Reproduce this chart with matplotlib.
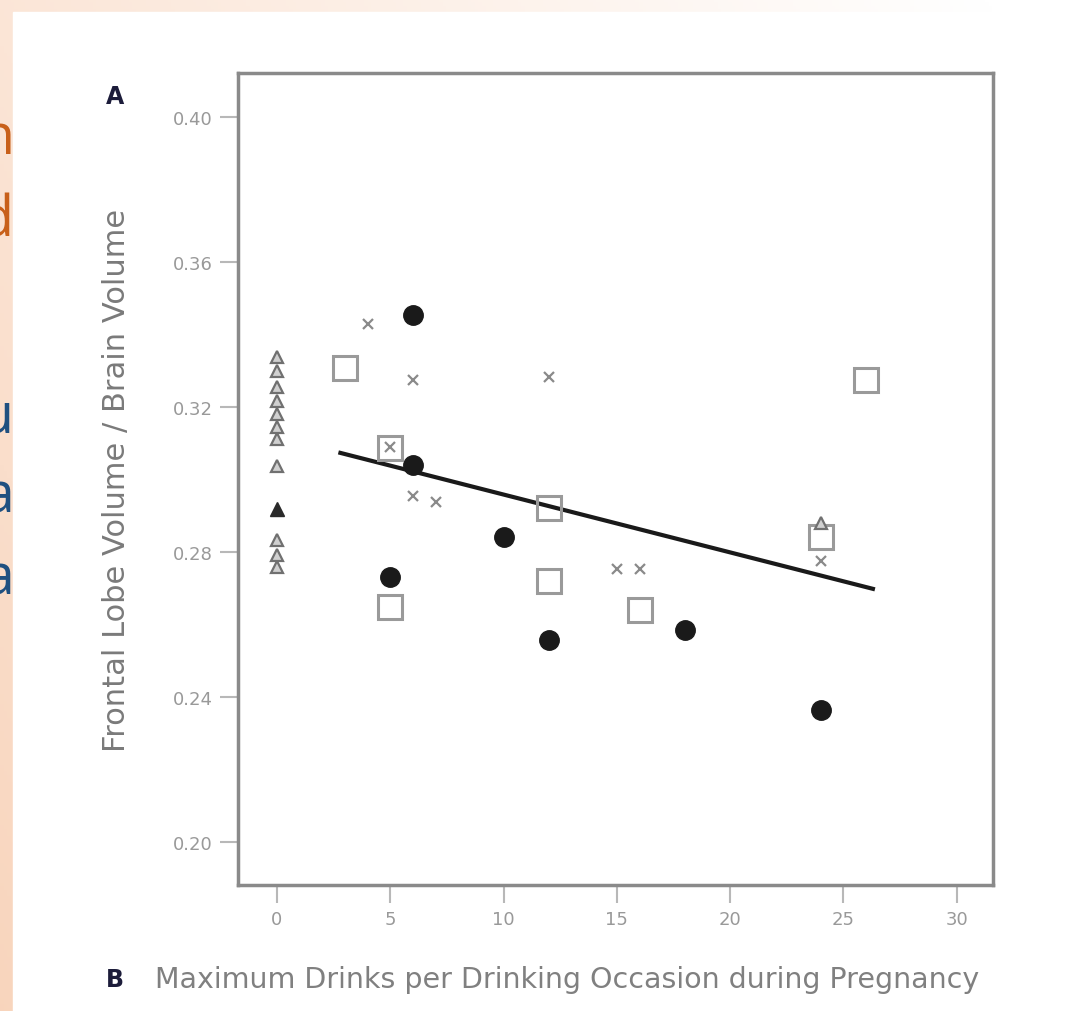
import matplotlib.pyplot as plt
import numpy as np

# --- data ---
# filled circles
circle_x = [6, 6, 5, 10, 12, 18, 24]
circle_y = [0.3454, 0.3040, 0.2731, 0.2841, 0.2557, 0.2585, 0.2364]

# open squares
square_x = [3, 5, 5, 12, 12, 16, 26, 24]
square_y = [0.3308, 0.3087, 0.2648, 0.2921, 0.2720, 0.2640, 0.3274, 0.2842]

# crosses
cross_x = [4, 6, 12, 6, 7, 15, 16, 5, 24]
cross_y = [0.3429, 0.3274, 0.3283, 0.2955, 0.2938, 0.2753, 0.2753, 0.3090, 0.2775]

# open triangles (mostly the non-drinking group at 0)
tri_x = [0, 0, 0, 0, 0, 0, 0, 0, 0, 0, 0, 24]
tri_y = [0.3338, 0.3299, 0.3255, 0.3217, 0.3181, 0.3145, 0.3112, 0.3037,
         0.2833, 0.2792, 0.2759, 0.2880]
# dark (overlapping) triangle
tri_dark_x = [0]
tri_dark_y = [0.2919]

# regression line end points
fit_x = [2.8, 26.3]
fit_y = [0.3073, 0.2698]

xticks = [0, 5, 10, 15, 20, 25, 30]
yticks = [0.20, 0.24, 0.28, 0.32, 0.36, 0.40]

W, H = 1071, 1012
fig = plt.figure(figsize=(W / 100, H / 100), dpi=100)

# slide background: peach strip on the left and top, white panel
bg = fig.add_axes([0, 0, 1, 1])
gx = np.linspace(0, 1, 300)
gy = np.linspace(0, 1, 300)
GX, GY = np.meshgrid(gx, gy)
peach = np.array([0.975, 0.835, 0.74])
white = np.array([1.0, 1.0, 1.0])
t = np.clip(0.4 * (1 - GY) + 0.65 * GX, 0, 1)[..., None]
img = peach * (1 - t) + white * t
bg.imshow(img, extent=[0, 1, 0, 1], aspect='auto', origin='upper')
bg.set_xlim(0, 1)
bg.set_ylim(0, 1)
bg.axis('off')

# cut-off slide text at the left edge
for ch, yy, col in [('n', 140, '#c8601a'), ('d', 222, '#c8601a'),
                    ('u', 418, '#1f5080'), ('a', 498, '#1f5080'),
                    ('a', 580, '#1f5080')]:
    fig.text(14 / W, 1 - yy / H, ch, color=col, fontsize=40,
             ha='right', va='center', family='Open Sans', zorder=0)
bg.add_patch(plt.Rectangle((13 / W, 0), 1, 1 - 13 / H, color='white', zorder=5))

ax = fig.add_axes([238 / W, 1 - 886 / H, (993 - 238) / W, (886 - 74) / H])
ax.set_facecolor('white')

ax.plot(fit_x, fit_y, color='#1a1a1a', lw=3, zorder=3)
ax.plot(circle_x, circle_y, 'o', ms=14, color='#1a1a1a', zorder=4)
ax.plot(square_x, square_y, 's', ms=17, mfc='none', mec='#9a9a9a', mew=2.2, zorder=4)
ax.plot(cross_x, cross_y, 'x', ms=7, mec='#8a8a8a', mew=1.6, zorder=4)
ax.plot(tri_x, tri_y, '^', ms=9, mfc='#d0d0d0', mec='#707070', mew=1.6, zorder=4)
ax.plot(tri_dark_x, tri_dark_y, '^', ms=10, color='#2a2a2a', zorder=4)

ax.set_xlim(-1.72, 31.6)
ax.set_ylim(0.1881, 0.4121)
ax.set_xticks(xticks)
ax.set_xticklabels([str(v) for v in xticks])
ax.set_yticks(yticks)
ax.set_yticklabels(['%.2f' % v for v in yticks])

for s in ax.spines.values():
    s.set_color('#8a8a8a')
    s.set_linewidth(2.5)
ax.tick_params(direction='out', length=13, width=1.5, color='#b8b8b8',
               labelcolor='#999999', labelsize=13, pad=5)

ax.set_ylabel('Frontal Lobe Volume / Brain Volume', fontsize=22,
              color='#7a7a7a', labelpad=30)

fig.text(155 / W, 1 - 980 / H,
         'Maximum Drinks per Drinking Occasion during Pregnancy',
         fontsize=20.5, color='#808080', ha='left', va='center')
fig.text(115 / W, 1 - 97 / H, 'A', fontsize=17, fontweight='bold',
         color='#1c1c3a', ha='center', va='center')
fig.text(115 / W, 1 - 980 / H, 'B', fontsize=17, fontweight='bold',
         color='#1c1c3a', ha='center', va='center')

fig.savefig('out.png', dpi=100)
